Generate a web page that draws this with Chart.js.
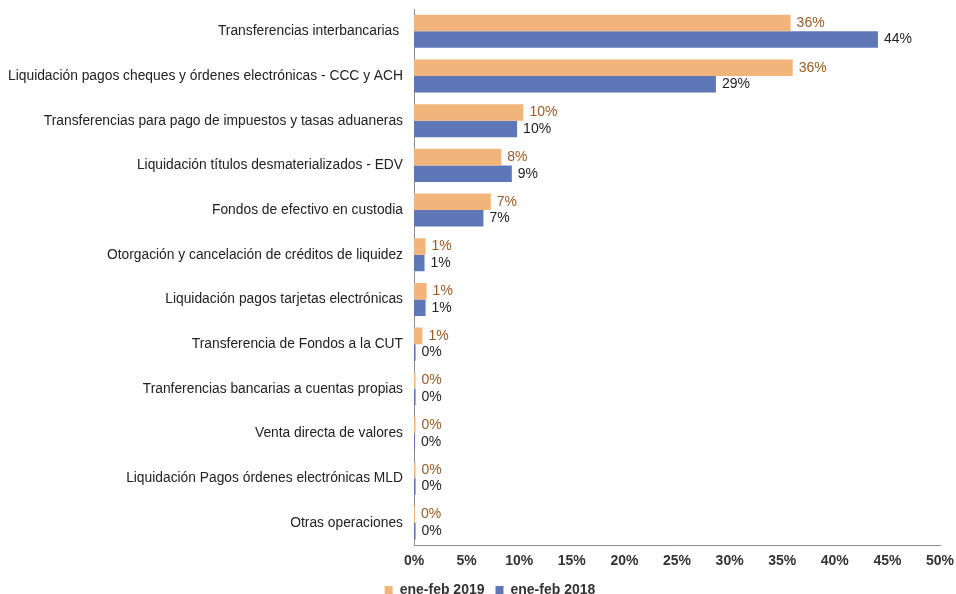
<!DOCTYPE html>
<html>
<head>
<meta charset="utf-8">
<script src="https://cdn.jsdelivr.net/npm/chart.js@4"></script>
<style>
  body { margin: 0; background: #fff; }
  #wrap { width: 956px; height: 594px; }
</style>
</head>
<body>
<div id="wrap"><canvas id="chart"></canvas></div>
<script>
const categories = [
    'Transferencias interbancarias ',
    'Liquidación pagos cheques y órdenes electrónicas - CCC y ACH',
    'Transferencias para pago de impuestos y tasas aduaneras',
    'Liquidación títulos desmaterializados - EDV',
    'Fondos de efectivo en custodia',
    'Otorgación y cancelación de créditos de liquidez',
    'Liquidación pagos tarjetas electrónicas',
    'Transferencia de Fondos a la CUT',
    'Tranferencias bancarias a cuentas propias',
    'Venta directa de valores',
    'Liquidación Pagos órdenes electrónicas MLD',
    'Otras operaciones',
];
const seriesNames = ['ene-feb 2019', 'ene-feb 2018'];
const values2019 = [35.8, 36.0, 10.4, 8.3, 7.3, 1.1, 1.2, 0.8, 0.15, 0.15, 0.15, 0.1];
const values2018 = [44.1, 28.7, 9.8, 9.3, 6.6, 1.0, 1.1, 0.15, 0.15, 0.1, 0.15, 0.15];
const xTicks = { min: 0, max: 50, step: 5 };

const FONT = "'Liberation Sans', Arial, sans-serif";
const labelColors = ['#9a5b22', '#1e1e1e'];

// simple value labels at the end of each bar
const barLabels = {
    id: 'barLabels',
    afterUpdate(chart) {
        // nudge the legend a bit to the right, like the original
        chart.legend.left += 20;
        chart.legend.right += 20;
    },
    afterDatasetsDraw(chart) {
        const ctx = chart.ctx;
        ctx.save();
        ctx.font = '14px ' + FONT;
        ctx.textBaseline = 'middle';
        ctx.textAlign = 'left';
        chart.data.datasets.forEach((ds, i) => {
            const meta = chart.getDatasetMeta(i);
            ctx.fillStyle = labelColors[i];
            meta.data.forEach((bar, j) => {
                ctx.fillText(Math.round(ds.data[j]) + '%', bar.x + 6, bar.y);
            });
        });
        ctx.restore();
    },
};

new Chart(document.getElementById('chart'), {
    type: 'bar',
    data: {
        labels: categories,
        datasets: [
            {
                label: seriesNames[0],
                data: values2019,
                backgroundColor: '#f1b47b',
                categoryPercentage: 0.74,
                barPercentage: 1.0,
            },
            {
                label: seriesNames[1],
                data: values2018,
                backgroundColor: '#5e77b7',
                categoryPercentage: 0.74,
                barPercentage: 1.0,
            },
        ],
    },
    options: {
        indexAxis: 'y',
        responsive: true,
        maintainAspectRatio: false,
        animation: false,
        layout: { padding: { top: 9, right: 16, bottom: -13, left: 0 } },
        scales: {
            x: {
                min: xTicks.min,
                max: xTicks.max,
                grid: { display: false, drawTicks: false },
                border: { display: true, color: '#8c8c8c' },
                ticks: {
                    stepSize: xTicks.step,
                    color: '#333',
                    font: { family: FONT, size: 14, weight: 'bold' },
                    padding: 8,
                    callback: (v) => v + '%',
                },
                afterFit(scale) {
                    scale.paddingRight = 0;
                    scale.paddingLeft = 0;
                    scale.height -= 6;
                },
            },
            y: {
                grid: { display: false, drawTicks: false },
                border: { display: true, color: '#8c8c8c' },
                ticks: {
                    color: '#222',
                    font: { family: FONT, size: 13.8 },
                    padding: 11,
                    autoSkip: false,
                },
                afterFit(scale) {
                    scale.width = 414;
                    scale.paddingTop = 0;
                    scale.paddingBottom = 0;
                },
            },
        },
        plugins: {
            legend: {
                position: 'bottom',
                labels: {
                    boxWidth: 8,
                    boxHeight: 8,
                    color: '#333',
                    font: { family: FONT, size: 14, weight: 'bold' },
                    padding: 11,
                },
            },
            tooltip: { enabled: false },
        },
    },
    plugins: [barLabels],
});
</script>
</body>
</html>
